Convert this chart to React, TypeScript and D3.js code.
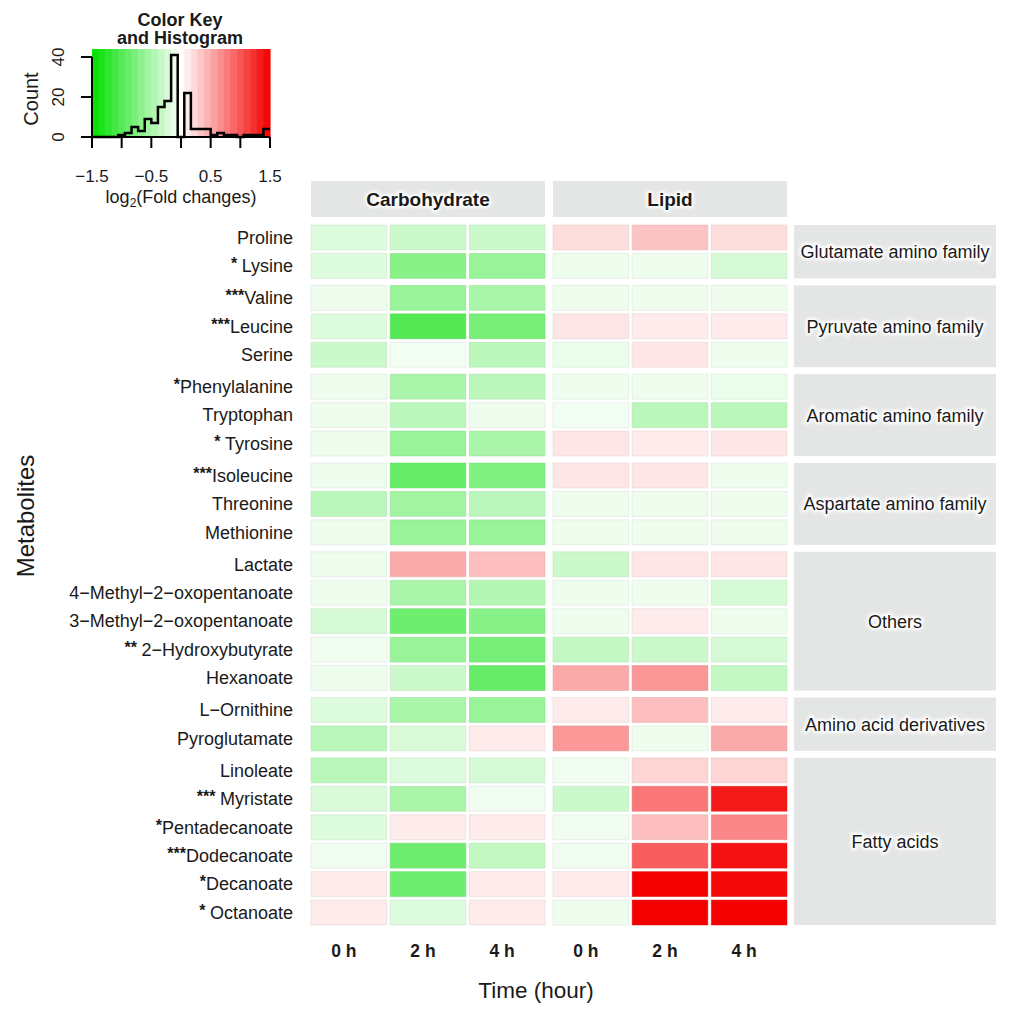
import React, { useEffect, useRef } from 'react';
import * as d3 from 'd3';

// rows of the heatmap, top to bottom
const metabolites = [
  'Proline', 'Lysine', 'Valine', 'Leucine', 'Serine', 'Phenylalanine', 'Tryptophan',
  'Tyrosine', 'Isoleucine', 'Threonine', 'Methionine', 'Lactate',
  '4\u2212Methyl\u22122\u2212oxopentanoate', '3\u2212Methyl\u22122\u2212oxopentanoate',
  '2\u2212Hydroxybutyrate', 'Hexanoate', 'L\u2212Ornithine', 'Pyroglutamate', 'Linoleate',
  'Myristate', 'Pentadecanoate', 'Dodecanoate', 'Decanoate', 'Octanoate',
];
const stars = [
  '', '* ', '***', '***', '', '*', '', '* ', '***', '', '', '',
  '', '', '** ', '', '', '', '', '*** ', '*', '***', '*', '* ',
];
const pathways = [
  'Glutamate amino family', 'Pyruvate amino family', 'Aromatic amino family',
  'Aspartate amino family', 'Others', 'Amino acid derivatives', 'Fatty acids',
];
const pathwaySizes = [2, 3, 3, 3, 5, 2, 6];
const diets = ['Carbohydrate', 'Lipid'];
const times = ['0 h', '2 h', '4 h'];

// log2 fold changes, one array per column
const carb0h = [-0.2, -0.2, -0.1, -0.2, -0.3, -0.1, -0.1, -0.1, -0.1, -0.4, -0.1, -0.1, -0.1, -0.25, -0.08, -0.1, -0.2, -0.4, -0.4, -0.22, -0.2, -0.08, 0.12, 0.12];
const carb2h = [-0.3, -0.7, -0.6, -1.0, -0.07, -0.5, -0.4, -0.6, -0.9, -0.55, -0.6, 0.5, -0.5, -0.85, -0.6, -0.3, -0.5, -0.22, -0.2, -0.5, 0.12, -0.85, -0.85, -0.2];
const carb4h = [-0.3, -0.6, -0.5, -0.8, -0.4, -0.4, -0.1, -0.5, -0.75, -0.4, -0.6, 0.38, -0.45, -0.7, -0.8, -0.9, -0.6, 0.12, -0.25, -0.08, 0.12, -0.35, 0.12, 0.12];
const lipid0h = [0.2, -0.1, -0.1, 0.15, -0.12, -0.1, -0.07, 0.15, 0.15, -0.1, -0.1, -0.3, -0.1, -0.1, -0.35, 0.5, 0.12, 0.6, -0.08, -0.3, -0.08, -0.08, 0.12, -0.1];
const lipid2h = [0.35, -0.1, -0.1, 0.12, 0.15, -0.1, -0.4, 0.12, 0.15, -0.1, -0.1, 0.15, -0.1, 0.12, -0.3, 0.62, 0.38, -0.1, 0.25, 0.8, 0.38, 0.95, 1.5, 1.5];
const lipid4h = [0.2, -0.25, -0.1, 0.12, -0.1, -0.12, -0.4, 0.15, -0.1, -0.1, -0.1, 0.15, -0.25, -0.1, -0.25, -0.35, 0.12, 0.5, 0.25, 1.35, 0.7, 1.4, 1.45, 1.5];

// colour key histogram (27 bins from -1.5 to 1.5)
const histCounts = [0, 0, 0, 0, 1, 2, 5, 3, 9, 7, 15, 18, 41, 0, 22, 4, 4, 4, 1, 2, 1, 1, 0, 1, 1, 1, 4];
const keyTicks = [-1.5, -1, -0.5, 0, 0.5, 1, 1.5];
const keyLabels = [-1.5, -0.5, 0.5, 1.5];
const countTicks = [0, 20, 40];

const GREEN = '#00e000';
const RED = '#f40000';
const STRIP = '#e4e5e5';
const INK = '#1a1a1a';
const font = "'Liberation Sans', Arial, Helvetica, sans-serif";

const pad = (total: number, n: number, gap: number) => {
  const t = (total - (n - 1) * gap) / n;
  return gap / (t + gap);
};
const minus = (v: number) => (v < 0 ? '\u2212' + Math.abs(v).toFixed(1) : v.toFixed(1));

export default function App() {
  const svgRef = useRef<SVGSVGElement>(null);

  useEffect(() => {
    if (!svgRef.current) return;
    const svg = d3.select(svgRef.current);
    svg.selectAll('*').remove();

    const defs = svg.append('defs');
    defs.append('filter').attr('id', 'glow')
      .attr('x', '-10%').attr('y', '-40%').attr('width', '120%').attr('height', '180%')
      .append('feGaussianBlur').attr('stdDeviation', 1.8);

    const color = d3.scaleLinear<string>()
      .domain([-1.5, 0, 1.5])
      .range([GREEN, '#ffffff', RED])
      .clamp(true);

    const columns = [carb0h, carb2h, carb4h, lipid0h, lipid2h, lipid4h];

    // ---- heatmap layout
    const left = 311, right = 787, top = 225, bottom = 925;
    const panelGapX = 8, panelGapY = 7, tileGap = 3.5;

    const x0 = d3.scaleBand().domain(diets).range([left, right])
      .paddingInner(pad(right - left, diets.length, panelGapX));
    const x1 = d3.scaleBand().domain(times).range([0, x0.bandwidth()])
      .paddingInner(pad(x0.bandwidth(), times.length, tileGap));

    const nRows = metabolites.length;
    const tileH = (bottom - top - (pathways.length - 1) * panelGapY - (nRows - pathways.length) * tileGap) / nRows;
    let cursor = top;
    let start = 0;
    const groups = pathways.map((name, i) => {
      const n = pathwaySizes[i];
      const h = n * tileH + (n - 1) * tileGap;
      const rows = metabolites.slice(start, start + n);
      const y = d3.scaleBand().domain(rows).range([cursor, cursor + h])
        .paddingInner(tileGap / (tileH + tileGap));
      const g = { name, rows, y, top: cursor, h };
      cursor += h + panelGapY;
      start += n;
      return g;
    });
    const yOf = (m: string) => groups.find(g => g.rows.includes(m))!.y;

    const cells = diets.flatMap((d, di) =>
      times.flatMap((t, ti) =>
        metabolites.map((m, mi) => ({ d, t, m, v: columns[di * 3 + ti][mi] }))));

    svg.append('g').selectAll('rect')
      .data(cells)
      .enter()
      .append('rect')
      .attr('x', c => x0(c.d)! + x1(c.t)!)
      .attr('y', c => yOf(c.m)(c.m)!)
      .attr('width', x1.bandwidth())
      .attr('height', yOf(metabolites[0]).bandwidth())
      .attr('fill', c => color(c.v))
      .attr('stroke', c => d3.color(color(c.v))!.darker(0.35).formatHex())
      .attr('stroke-opacity', 0.45)
      .attr('stroke-width', 1);

    // ---- strips (grey boxes, text with a soft white halo)
    const haloText = (
      g: d3.Selection<SVGGElement, unknown, null, undefined>,
      x: number, y: number, label: string, size: number, bold: boolean,
    ) => {
      [true, false].forEach(halo => {
        g.append('text').attr('x', x).attr('y', y)
          .attr('text-anchor', 'middle').attr('font-family', font)
          .attr('font-size', size).attr('font-weight', bold ? 'bold' : 'normal')
          .attr('fill', halo ? '#fff' : INK)
          .attr('stroke', halo ? '#fff' : 'none').attr('stroke-width', halo ? 4 : 0)
          .attr('filter', halo ? 'url(#glow)' : null)
          .text(label);
      });
    };

    const topStrip = svg.append('g');
    diets.forEach(d => {
      topStrip.append('rect').attr('x', x0(d)!).attr('y', 181)
        .attr('width', x0.bandwidth()).attr('height', 36).attr('fill', STRIP);
      haloText(topStrip, x0(d)! + x0.bandwidth() / 2, 206, d, 19, true);
    });

    const side = svg.append('g');
    groups.forEach(g => {
      side.append('rect').attr('x', 794).attr('y', g.top)
        .attr('width', 202).attr('height', g.h).attr('fill', STRIP);
      haloText(side, 895, g.top + g.h / 2 + 6.5, g.name, 18, false);
    });

    // ---- row labels
    const rowLab = svg.append('g').attr('font-family', font).attr('fill', INK);
    metabolites.forEach((m, i) => {
      const y = yOf(m);
      const t = rowLab.append('text').attr('x', 293).attr('y', y(m)! + y.bandwidth() / 2 + 6.3)
        .attr('text-anchor', 'end').attr('font-size', 18)
        .style('white-space', 'pre');
      if (stars[i]) {
        t.append('tspan').attr('font-size', 16).attr('font-weight', 'bold')
          .attr('dy', -3).text(stars[i]);
        t.append('tspan').attr('dy', 3).text(m);
      } else {
        t.text(m);
      }
    });

    // ---- column labels and titles
    const colLab = svg.append('g').attr('font-family', font).attr('fill', INK);
    diets.forEach(d => times.forEach(t => {
      colLab.append('text')
        .attr('x', x0(d)! + x1(t)! + x1.bandwidth() / 2 - 5).attr('y', 957)
        .attr('text-anchor', 'middle').attr('font-size', 17.5).attr('font-weight', 'bold')
        .text(t);
    }));
    colLab.append('text').attr('x', 536).attr('y', 998).attr('text-anchor', 'middle')
      .attr('font-size', 22.5).text('Time (hour)');
    colLab.append('text').attr('transform', 'translate(34,516) rotate(-90)')
      .attr('text-anchor', 'middle').attr('font-size', 24).text('Metabolites');

    // ---- colour key with histogram
    const kx = d3.scaleLinear().domain([-1.5, 1.5]).range([92, 270]);
    const ky = d3.scaleLinear().domain([0, 40]).range([137, 57]);
    const keyTop = 49;
    const breaks = d3.range(histCounts.length + 1).map(i => -1.5 + (3 * i) / histCounts.length);
    const key = svg.append('g');

    key.selectAll('rect.stripe')
      .data(d3.range(histCounts.length))
      .enter()
      .append('rect')
      .attr('x', i => kx(breaks[i]))
      .attr('y', keyTop)
      .attr('width', i => kx(breaks[i + 1]) - kx(breaks[i]) + 0.6)
      .attr('height', ky(0) - keyTop)
      .attr('fill', i => color((breaks[i] + breaks[i + 1]) / 2));

    const pts: [number, number][] = histCounts.map((c, i) => [breaks[i], c]);
    pts.push([breaks[histCounts.length], histCounts[histCounts.length - 1]]);
    key.append('path')
      .attr('d', d3.line<[number, number]>().x(p => kx(p[0])).y(p => ky(p[1])).curve(d3.curveStepAfter)(pts))
      .attr('fill', 'none').attr('stroke', '#000').attr('stroke-width', 2.5);

    const ax = key.append('g').attr('stroke', '#000').attr('stroke-width', 2);
    ax.append('line').attr('x1', kx(-1.5)).attr('x2', kx(1.5)).attr('y1', ky(0)).attr('y2', ky(0));
    keyTicks.forEach(v => ax.append('line').attr('x1', kx(v)).attr('x2', kx(v))
      .attr('y1', ky(0)).attr('y2', ky(0) + 11));
    ax.append('line').attr('x1', 92).attr('x2', 92).attr('y1', ky(0)).attr('y2', ky(40));
    countTicks.forEach(v => ax.append('line').attr('x1', 81).attr('x2', 92)
      .attr('y1', ky(v)).attr('y2', ky(v)));

    const kt = key.append('g').attr('font-family', font).attr('fill', INK);
    keyLabels.forEach(v => kt.append('text').attr('x', kx(v)).attr('y', 182)
      .attr('text-anchor', 'middle').attr('font-size', 17).text(minus(v)));
    countTicks.forEach(v => kt.append('text')
      .attr('transform', `translate(64,${ky(v)}) rotate(-90)`)
      .attr('text-anchor', 'middle').attr('font-size', 17).text(v));
    kt.append('text').attr('transform', `translate(38,${ky(19)}) rotate(-90)`)
      .attr('text-anchor', 'middle').attr('font-size', 20).text('Count');
    const xl = kt.append('text').attr('x', 181).attr('y', 203).attr('text-anchor', 'middle')
      .attr('font-size', 18);
    xl.append('tspan').text('log');
    xl.append('tspan').attr('font-size', 12).attr('dy', 4).text('2');
    xl.append('tspan').attr('dy', -4).text('(Fold changes)');
    kt.append('text').attr('x', 180).attr('y', 26).attr('text-anchor', 'middle')
      .attr('font-size', 18).attr('font-weight', 'bold').text('Color Key');
    kt.append('text').attr('x', 180).attr('y', 44).attr('text-anchor', 'middle')
      .attr('font-size', 18).attr('font-weight', 'bold').text('and Histogram');
  }, []);

  return (
    <svg
      ref={svgRef}
      width={1024}
      height={1016}
      style={{ position: 'absolute', left: 0, top: 0, display: 'block', background: '#fff' }}
    />
  );
}
